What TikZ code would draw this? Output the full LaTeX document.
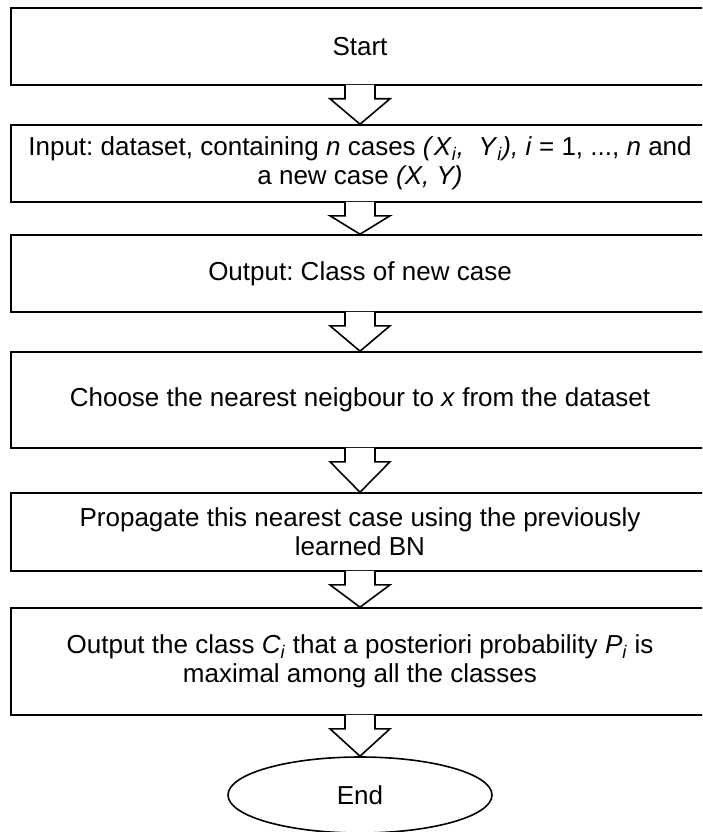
\documentclass[tikz,border=0pt]{standalone}
\usepackage{fontspec}
\setmainfont{Liberation Sans}
\usepackage{tikz}
\usetikzlibrary{shapes.geometric, calc}

\frenchspacing
\newcommand\itsub[2]{\textit{#1}\textsubscript{\textit{#2}}}

\tikzset{
  stepbox/.style={draw, line width=1.6pt, minimum width=698pt,
    align=center, inner sep=0pt, font=\fontsize{26}{29}\selectfont},
  endnode/.style={ellipse, draw, line width=1.6pt, minimum width=264pt,
    minimum height=76pt, inner sep=0pt, font=\fontsize{26}{29}\selectfont},
  blockarrow/.style={draw, line width=1.6pt, fill=white, line join=miter}
}

\begin{document}
\begin{tikzpicture}[x=1pt,y=1pt]
\clip (0,0) rectangle (702,-832);

\node[stepbox, minimum height=77pt] (start) at (360,-46.5) {Start};
\node[stepbox, minimum height=77pt] (input) at (360,-163.5)
  {Input: dataset, containing \textit{n} cases \textit{(}\itsub{X}{i}\textit{,\ \ }\itsub{Y}{i}\textit{),} \textit{i} = 1, ..., \textit{n} and\\
   a new case \textit{(X, Y)}};
\node[stepbox, minimum height=77pt] (output) at (360,-273.5) {Output: Class of new case};
\node[stepbox, minimum height=96pt] (choose) at (360,-400)
  {Choose the nearest neigbour to \textit{x} from the dataset};
\node[stepbox, minimum height=78pt] (propagate) at (360,-532)
  {Propagate this nearest case using the previously\\ learned BN};
\node[stepbox, minimum height=107pt] (result) at (360,-661.5)
  {Output the class \itsub{C}{i} that a posteriori probability \itsub{P}{i} is\\
   maximal among all the classes};
\node[endnode] (stop) at (360,-795) {End};

% hollow arrows between the steps
\foreach \a/\b in {start/input, input/output, output/choose, choose/propagate, propagate/result, result/stop}
  \draw[blockarrow] ([xshift=-15pt,yshift=1pt]\a.south) -- ++(0,-14) -- ++(-15,0)
    -- (\a.south |- \b.north) -- ([xshift=30pt,yshift=-13pt]\a.south) -- ++(-15,0) -- ++(0,14);
\end{tikzpicture}
\end{document}
